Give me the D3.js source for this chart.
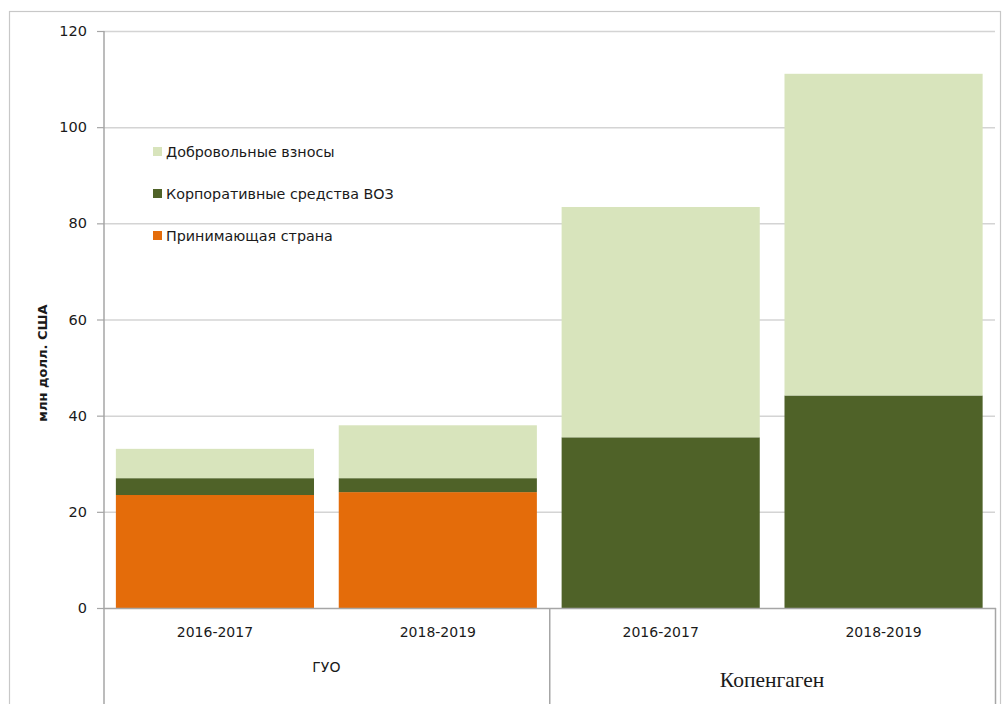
<!DOCTYPE html>
<html>
<head>
<meta charset="utf-8">
<script src="https://cdn.jsdelivr.net/npm/d3@7"></script>
<style>
  html, body { margin: 0; padding: 0; background: #fff; }
  svg { display: block; }
  text { font-family: "DejaVu Sans", Verdana, sans-serif; fill: #1a1a1a; }
</style>
</head>
<body>
<svg id="chart" width="1002" height="704"></svg>
<script>
// Budget by location and biennium, USD millions
const groups = ["ГУО", "Копенгаген"];
const periods = ["2016-2017", "2018-2019"];
const categories = ["ГУО|2016-2017", "ГУО|2018-2019", "Копенгаген|2016-2017", "Копенгаген|2018-2019"];
const hostCountry = [23.5, 24.1, 0, 0];
const corporateWho = [3.5, 2.9, 35.5, 44.2];
const voluntary = [6.1, 11.0, 47.9, 66.9];
const seriesNames = ["Принимающая страна", "Корпоративные средства ВОЗ", "Добровольные взносы"];
const seriesColors = ["#e46c0a", "#4f6228", "#d8e4bc"];
const yTicks = [0, 20, 40, 60, 80, 100, 120];
const yTitle = "млн долл. США";

const svg = d3.select("#chart");
const plotLeft = 103.5, plotRight = 995, plotTop = 31, plotBottom = 608;

// outer frame
svg.append("rect")
  .attr("x", 9.5).attr("y", 11.5)
  .attr("width", 991).attr("height", 720)
  .attr("fill", "none").attr("stroke", "#c8c8c8").attr("stroke-width", 1.2);

const x = d3.scaleBand().domain(categories).range([plotLeft, plotRight])
  .paddingInner(0.111).paddingOuter(0.0555);
const y = d3.scaleLinear().domain([0, 120]).range([plotBottom, plotTop]);

// gridlines
svg.append("g")
  .selectAll("line").data(yTicks.filter(d => d > 0)).join("line")
  .attr("x1", plotLeft).attr("x2", plotRight)
  .attr("y1", d => y(d) + 0.5).attr("y2", d => y(d) + 0.5)
  .attr("stroke", "#d4d4d4").attr("stroke-width", 1.5);

// stacked bars
const rows = categories.map((c, i) => ({
  cat: c, host: hostCountry[i], corp: corporateWho[i], vol: voluntary[i]
}));
const stack = d3.stack().keys(["host", "corp", "vol"])(rows);
svg.append("g").selectAll("g").data(stack).join("g")
  .attr("fill", (d, i) => seriesColors[i])
  .selectAll("rect").data(d => d).join("rect")
  .attr("x", d => x(d.data.cat))
  .attr("width", x.bandwidth())
  .attr("y", d => y(d[1]))
  .attr("height", d => y(d[0]) - y(d[1]));

// y axis
const yAxis = d3.axisLeft(y).tickValues(yTicks).tickSize(7).tickPadding(10);
const ya = svg.append("g").attr("transform", `translate(${plotLeft + 0.5},0)`).call(yAxis);
ya.select(".domain").remove();
ya.selectAll(".tick line").attr("stroke", "#a6a6a6").attr("stroke-width", 1.2);
ya.selectAll(".tick text").style("font-family", "DejaVu Sans, Verdana, sans-serif")
  .style("font-size", "14.5px").attr("fill", "#1a1a1a");

const axisColor = "#a6a6a6";
// vertical axis line continuing into the category area
svg.append("line").attr("x1", plotLeft + 0.5).attr("x2", plotLeft + 0.5)
  .attr("y1", plotTop).attr("y2", 704).attr("stroke", axisColor).attr("stroke-width", 1.5);
// category axis line
svg.append("line").attr("x1", plotLeft).attr("x2", plotRight + 1)
  .attr("y1", plotBottom + 0.5).attr("y2", plotBottom + 0.5).attr("stroke", axisColor).attr("stroke-width", 1.5);
// group separators
const groupEdges = [(plotLeft + plotRight) / 2, plotRight];
svg.selectAll(".sep").data(groupEdges).join("line").attr("class", "sep")
  .attr("x1", d => d + 0.5).attr("x2", d => d + 0.5)
  .attr("y1", plotBottom).attr("y2", 704).attr("stroke", axisColor).attr("stroke-width", 1.5);

// period labels
svg.append("g").selectAll("text").data(categories).join("text")
  .attr("x", d => x(d) + x.bandwidth() / 2)
  .attr("y", 637)
  .attr("text-anchor", "middle")
  .style("font-size", "14px")
  .text(d => d.split("|")[1]);

// group labels
const groupCenter = g => {
  const cats = categories.filter(c => c.startsWith(g + "|"));
  return (x(cats[0]) + x(cats[cats.length - 1]) + x.bandwidth()) / 2;
};
svg.append("text").attr("x", groupCenter(groups[0])).attr("y", 672)
  .attr("text-anchor", "middle").style("font-size", "14px").text(groups[0]);
svg.append("text").attr("x", groupCenter(groups[1])).attr("y", 687)
  .attr("text-anchor", "middle")
  .style("font-family", "'Liberation Serif', 'Times New Roman', serif")
  .style("font-size", "21.5px").attr("fill", "#111").text(groups[1]);

// y axis title
svg.append("text")
  .attr("transform", "translate(47,363) rotate(-90)")
  .attr("text-anchor", "middle")
  .style("font-size", "13px").style("font-weight", "bold")
  .text(yTitle);

// legend (top entry is the top of the stack)
const legendOrder = [2, 1, 0];
const lg = svg.append("g").selectAll("g").data(legendOrder).join("g")
  .attr("transform", (d, i) => `translate(153,${152 + i * 42})`);
lg.append("rect").attr("x", 0).attr("y", -5).attr("width", 9).attr("height", 9)
  .attr("fill", d => seriesColors[d]);
lg.append("text").attr("x", 13).attr("y", 5)
  .style("font-size", "14.3px").text(d => seriesNames[d]);
</script>
</body>
</html>
